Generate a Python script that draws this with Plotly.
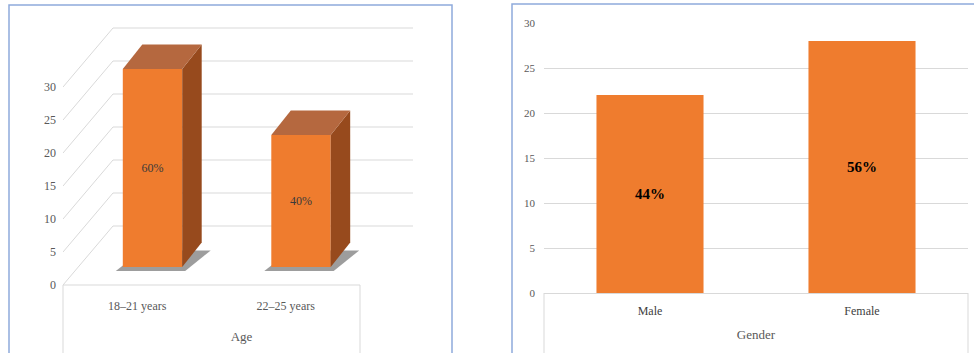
import plotly.graph_objects as go

# ---------------- data ----------------
age_groups = ["18–21 years", "22–25 years"]
age_counts = [30, 20]
age_pct = ["60%", "40%"]

genders = ["Male", "Female"]
gender_counts = [22, 28]
gender_pct = ["44%", "56%"]

y_ticks = [0, 5, 10, 15, 20, 25, 30]

# ---------------- geometry / style ----------------
W, H = 974, 353


def fx(p):
    return p / W


def fy(p):
    return 1 - p / H


SERIF = "Liberation Serif, Times New Roman, serif"
GRID = "#d9d9d9"
FRONT = "#ef7c2e"
TOP = "#b5683f"
SIDE = "#974a1d"
BORDER = "#8faadc"

# left (pseudo 3-D) chart projection
PXU = 148.5          # pixels per category unit
PXV = 6.6            # pixels per value unit
DX = 50 / PXU        # floor depth shift (x, in category units)
DY = 59 / PXV        # floor depth shift (y, in value units)
D_FRONT = 0.305      # depth of bars' front face
BDX = 19.5 / PXU     # bar depth shift x
BDY = 24.5 / PXV     # bar depth shift y
BW = 0.4             # bar width
XR_L = [-0.5, -0.5 + (420 - 63) / PXU]
YR_L = [0, 40]

fig = go.Figure()

# back wall + side wall grid lines (base axes x/y)
gx, gy = [], []
back_l = -0.5 + DX
back_r = 1.5 + DX + 3 / PXU
for k in y_ticks:
    gx += [back_l, back_r, None]
    gy += [k + DY, k + DY, None]
    gx += [-0.5, back_l, None]
    gy += [k, k + DY, None]
fig.add_trace(go.Scatter(x=gx, y=gy, mode="lines", line=dict(color=GRID, width=1),
                         hoverinfo="skip", showlegend=False, xaxis="x", yaxis="y"))

base_v = D_FRONT * DY
x_off = D_FRONT * DX
bar_x = [i + x_off for i in range(len(age_groups))]

for i, v in enumerate(age_counts):
    xl = bar_x[i] - BW / 2
    xr = bar_x[i] + BW / 2
    # soft floor shadow (base axes, below bars)
    sx = [xl - 7 / PXU, xr + 3 / PXU, xr + BDX + 9 / PXU, xl + BDX, xl - 7 / PXU]
    sy = [base_v - 0.6, base_v - 0.6, base_v + BDY - 1.2, base_v + BDY - 1.2, base_v - 0.6]
    fig.add_trace(go.Scatter(x=sx, y=sy, mode="lines", fill="toself",
                             fillcolor="rgba(60,60,60,0.5)", line=dict(width=0),
                             hoverinfo="skip", showlegend=False, xaxis="x", yaxis="y"))

# front faces as real bars (overlay axes x3/y3, drawn above the grid)
fig.add_trace(go.Bar(
    x=bar_x, y=age_counts, base=base_v, width=BW,
    marker=dict(color=FRONT, line=dict(width=0)),
    text=age_pct, textposition="inside", insidetextanchor="middle",
    textfont=dict(family=SERIF, size=12, color="#3a3a3a"), textangle=0,
    hoverinfo="skip", showlegend=False, xaxis="x3", yaxis="y3"))

for i, v in enumerate(age_counts):
    xl = bar_x[i] - BW / 2
    xr = bar_x[i] + BW / 2
    top = base_v + v
    # side face
    fig.add_trace(go.Scatter(
        x=[xr, xr, xr + BDX, xr + BDX, xr],
        y=[base_v, top, top + BDY, base_v + BDY, base_v],
        mode="lines", fill="toself", fillcolor=SIDE, line=dict(width=0),
        hoverinfo="skip", showlegend=False, xaxis="x3", yaxis="y3"))
    # top face
    fig.add_trace(go.Scatter(
        x=[xl, xr, xr + BDX, xl + BDX, xl],
        y=[top, top, top + BDY, top + BDY, top],
        mode="lines", fill="toself", fillcolor=TOP, line=dict(width=0),
        hoverinfo="skip", showlegend=False, xaxis="x3", yaxis="y3"))

# right chart
fig.add_trace(go.Bar(
    x=genders, y=gender_counts, width=0.505,
    marker=dict(color=FRONT, line=dict(width=0)),
    text=gender_pct, textposition="inside", insidetextanchor="middle",
    textfont=dict(family=SERIF, size=15, color="#000000", weight="bold"), textangle=0,
    hoverinfo="skip", showlegend=False, xaxis="x2", yaxis="y2"))

# ---------------- frames ----------------
shapes = []


def pline(x0, y0, x1, y1, color=GRID, width=1):
    shapes.append(dict(type="line", xref="paper", yref="paper",
                       x0=fx(x0), y0=fy(y0), x1=fx(x1), y1=fy(y1),
                       line=dict(color=color, width=width)))


# left category box
pline(63, 285, 360, 285)
pline(63, 285, 63, 360)
pline(360, 285, 360, 360)
# right category box
pline(544, 293, 544, 360)
pline(968, 293, 968, 360)

# panel borders
shapes.append(dict(type="rect", xref="paper", yref="paper",
                   x0=fx(9), x1=fx(452), y0=fy(5), y1=fy(365),
                   line=dict(color=BORDER, width=1.5)))
shapes.append(dict(type="rect", xref="paper", yref="paper",
                   x0=fx(512), x1=fx(990), y0=fy(4), y1=fy(365),
                   line=dict(color=BORDER, width=1.5)))

tickfont = dict(family=SERIF, size=12, color="#595959")
dom_xl = [fx(63), fx(420)]
dom_yl = [fy(285), fy(285 - 40 * PXV)]

fig.update_layout(
    template="none",
    width=W, height=H,
    margin=dict(l=0, r=0, t=0, b=0, pad=0),
    paper_bgcolor="white", plot_bgcolor="rgba(0,0,0,0)",
    showlegend=False,
    shapes=shapes,
    xaxis=dict(domain=dom_xl, range=XR_L, anchor="y",
               tickmode="array", tickvals=[0, 1], ticktext=age_groups,
               showgrid=False, zeroline=False, showline=False, ticks="",
               ticklabelstandoff=12, tickfont=tickfont, fixedrange=True, automargin=False,
               title=dict(text="Age", font=dict(family=SERIF, size=13, color="#595959"),
                          standoff=19)),
    yaxis=dict(domain=dom_yl, range=YR_L, anchor="x",
               tickmode="array", tickvals=y_ticks,
               showgrid=False, zeroline=False, showline=False, ticks="",
               ticklabelstandoff=6, tickfont=tickfont, fixedrange=True, automargin=False),
    xaxis3=dict(overlaying="x", range=XR_L, visible=False, anchor="y3", fixedrange=True,
                automargin=False),
    yaxis3=dict(overlaying="y", range=YR_L, visible=False, anchor="x3", fixedrange=True,
                automargin=False),
    xaxis2=dict(domain=[fx(544), fx(968)], anchor="y2", range=[-0.5, 1.5],
                showgrid=False, zeroline=False, showline=True, linecolor=GRID, linewidth=1,
                ticks="", ticklabelstandoff=7, automargin=False,
                tickfont=dict(family=SERIF, size=12, color="#404040"), fixedrange=True,
                title=dict(text="Gender", font=dict(family=SERIF, size=13, color="#595959"),
                           standoff=12)),
    yaxis2=dict(domain=[fy(293), fy(23)], anchor="x2", range=[0, 30], dtick=5,
                showgrid=True, gridcolor=GRID, gridwidth=1, zeroline=False, showline=False,
                ticks="", ticklabelstandoff=8, automargin=False,
                tickfont=dict(family=SERIF, size=11, color="#595959"), fixedrange=True),
)

fig.write_html("out.html", config={"displayModeBar": False},
               post_script="document.body.style.margin='0px';")
